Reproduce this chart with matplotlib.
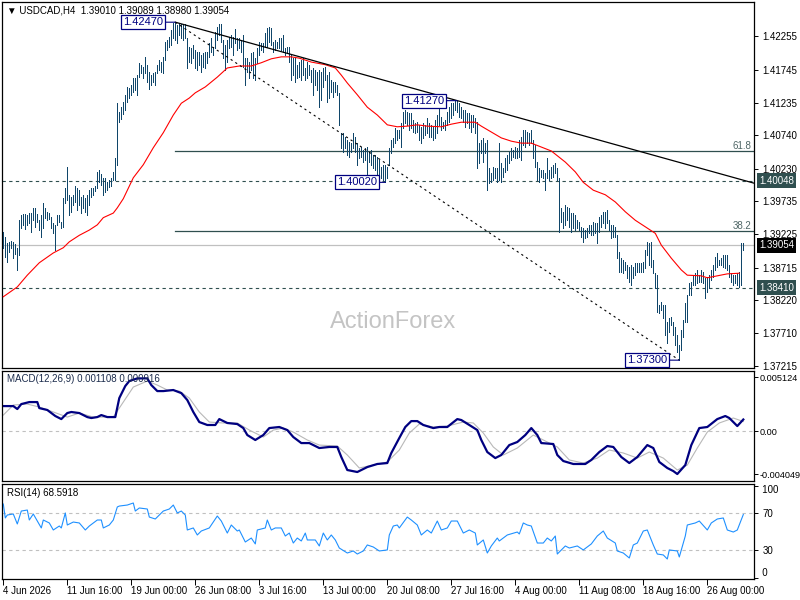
import matplotlib
matplotlib.use("Agg")
import matplotlib.pyplot as plt
import matplotlib.transforms as mtransforms
import numpy as np

plt.rcParams["font.family"] = ["Liberation Sans", "DejaVu Sans"]

# ---- data (H4 bars, index 0 = 4 Jun 2026 00:00) ----
symbol = "USDCAD,H4"
last_ohlc = [1.39010, 1.39089, 1.38980, 1.39054]
macd_header = [0.001108, 0.000916]
rsi_last = 68.5918

bar_high = [
    1.3926, 1.3918, 1.3909, 1.3911, 1.3912, 1.3911, 1.3908, 1.3902, 1.3944, 1.3952,
    1.3954, 1.3954, 1.3952, 1.3955, 1.3955, 1.3963, 1.3963, 1.3954, 1.3944, 1.3952,
    1.3970, 1.3963, 1.3957, 1.3955, 1.3949, 1.3940, 1.3937, 1.3952, 1.3952, 1.3941,
    1.3978, 1.3993, 1.4025, 1.3983, 1.3980, 1.3983, 1.3996, 1.3993, 1.3990, 1.3980,
    1.3983, 1.3978, 1.3983, 1.3990, 1.3993, 1.3993, 1.3996, 1.4018, 1.4021, 1.4015,
    1.4009, 1.4009, 1.4002, 1.4006, 1.4009, 1.4018, 1.4039, 1.4123, 1.4110, 1.4117,
    1.4125, 1.4136, 1.4148, 1.4146, 1.4151, 1.4162, 1.4162, 1.4166, 1.4185, 1.4182,
    1.4178, 1.4194, 1.4182, 1.4171, 1.4166, 1.4169, 1.4171, 1.4182, 1.4189, 1.4186,
    1.4194, 1.4217, 1.4220, 1.4224, 1.4235, 1.4246, 1.4247, 1.4243, 1.4245, 1.4244,
    1.4243, 1.4245, 1.4223, 1.4209, 1.4208, 1.4212, 1.4204, 1.4201, 1.4201, 1.4197,
    1.4200, 1.4201, 1.4201, 1.4215, 1.4223, 1.4209, 1.4232, 1.4240, 1.4245, 1.4244,
    1.4220, 1.4212, 1.4220, 1.4224, 1.4227, 1.4224, 1.4237, 1.4223, 1.4223, 1.4220,
    1.4227, 1.4192, 1.4192, 1.4186, 1.4200, 1.4201, 1.4192, 1.4208, 1.4217, 1.4215,
    1.4215, 1.4230, 1.4238, 1.4240, 1.4238, 1.4217, 1.4220, 1.4217, 1.4223, 1.4223,
    1.4227, 1.4208, 1.4209, 1.4209, 1.4197, 1.4192, 1.4192, 1.4182, 1.4186, 1.4189,
    1.4192, 1.4177, 1.4186, 1.4182, 1.4174, 1.4177, 1.4174, 1.4171, 1.4174, 1.4171,
    1.4177, 1.4178, 1.4166, 1.4171, 1.4159, 1.4155, 1.4155, 1.4151, 1.4139, 1.4077,
    1.4077, 1.4071, 1.4067, 1.4064, 1.4062, 1.4077, 1.4071, 1.4062, 1.4055, 1.4056,
    1.4051, 1.4055, 1.4056, 1.4048, 1.4051, 1.4044, 1.4044, 1.4041, 1.4036, 1.4025,
    1.4029, 1.4029, 1.4025, 1.4055, 1.4067, 1.4070, 1.4085, 1.4082, 1.4082, 1.4093,
    1.4110, 1.4113, 1.4110, 1.4108, 1.4108, 1.4097, 1.4093, 1.4094, 1.4090, 1.4087,
    1.4093, 1.4090, 1.4100, 1.4093, 1.4090, 1.4087, 1.4097, 1.4105, 1.4116, 1.4102,
    1.4094, 1.4097, 1.4110, 1.4117, 1.4123, 1.4124, 1.4126, 1.4127, 1.4124, 1.4117,
    1.4113, 1.4113, 1.4108, 1.4108, 1.4105, 1.4105, 1.4100, 1.4094, 1.4062, 1.4067,
    1.4070, 1.4062, 1.4067, 1.4024, 1.4016, 1.4025, 1.4024, 1.4024, 1.4062, 1.4032,
    1.4024, 1.4039, 1.4044, 1.4048, 1.4055, 1.4051, 1.4056, 1.4055, 1.4067, 1.4071,
    1.4082, 1.4082, 1.4079, 1.4077, 1.4082, 1.4067, 1.4059, 1.4033, 1.4024, 1.4021,
    1.4021, 1.4016, 1.4039, 1.4021, 1.4025, 1.4029, 1.4032, 1.4024, 1.4009, 1.3963,
    1.3957, 1.3967, 1.3964, 1.3963, 1.3955, 1.3955, 1.3952, 1.3944, 1.3941, 1.3934,
    1.3932, 1.3929, 1.3932, 1.3937, 1.3937, 1.3941, 1.3940, 1.3940, 1.3949, 1.3952,
    1.3957, 1.3957, 1.3960, 1.3944, 1.3937, 1.3937, 1.3934, 1.3921, 1.3895, 1.3886,
    1.3883, 1.3880, 1.3876, 1.3872, 1.3876, 1.3872, 1.3879, 1.3879, 1.3879, 1.3879,
    1.3880, 1.3898, 1.3911, 1.3909, 1.3911, 1.3883, 1.3863, 1.3860, 1.3814, 1.3819,
    1.3814, 1.3814, 1.3788, 1.3795, 1.3796, 1.3788, 1.3781, 1.3768, 1.3753, 1.3776,
    1.3791, 1.3817, 1.3830, 1.3848, 1.3849, 1.3860, 1.3863, 1.3868, 1.3860, 1.3868,
    1.3865, 1.3856, 1.3857, 1.3860, 1.3868, 1.3876, 1.3888, 1.3894, 1.3883, 1.3886,
    1.3891, 1.3891, 1.3891, 1.3876, 1.3863, 1.3860, 1.3860, 1.3863, 1.3865, 1.3909,
    1.39089,
]

bar_low = [
    1.3902, 1.3888, 1.3880, 1.3895, 1.3902, 1.3886, 1.3892, 1.3868, 1.3891, 1.3932,
    1.3937, 1.3931, 1.3937, 1.3940, 1.3926, 1.3944, 1.3934, 1.3941, 1.3929, 1.3918,
    1.3932, 1.3947, 1.3944, 1.3946, 1.3932, 1.3924, 1.3898, 1.3937, 1.3941, 1.3932,
    1.3934, 1.3970, 1.3975, 1.3952, 1.3957, 1.3967, 1.3972, 1.3960, 1.3967, 1.3955,
    1.3963, 1.3957, 1.3952, 1.3967, 1.3980, 1.3983, 1.3989, 1.3993, 1.4002, 1.3998,
    1.3983, 1.3987, 1.3990, 1.3995, 1.3996, 1.4006, 1.4006, 1.4029, 1.4094, 1.4099,
    1.4107, 1.4113, 1.4125, 1.4131, 1.4136, 1.4140, 1.4143, 1.4136, 1.4163, 1.4169,
    1.4162, 1.4169, 1.4155, 1.4145, 1.4151, 1.4155, 1.4151, 1.4169, 1.4174, 1.4171,
    1.4169, 1.4189, 1.4204, 1.4209, 1.4212, 1.4223, 1.4220, 1.4215, 1.4227, 1.4223,
    1.4220, 1.4223, 1.4177, 1.4186, 1.4185, 1.4192, 1.4177, 1.4174, 1.4182, 1.4171,
    1.4178, 1.4177, 1.4185, 1.4194, 1.4201, 1.4197, 1.4208, 1.4220, 1.4227, 1.4217,
    1.4192, 1.4174, 1.4186, 1.4208, 1.4209, 1.4197, 1.4215, 1.4204, 1.4208, 1.4201,
    1.4178, 1.4151, 1.4171, 1.4162, 1.4174, 1.4162, 1.4159, 1.4185, 1.4197, 1.4204,
    1.4201, 1.4209, 1.4209, 1.4217, 1.4212, 1.4201, 1.4204, 1.4208, 1.4208, 1.4204,
    1.4201, 1.4197, 1.4200, 1.4186, 1.4159, 1.4166, 1.4155, 1.4162, 1.4163, 1.4159,
    1.4166, 1.4159, 1.4162, 1.4166, 1.4155, 1.4136, 1.4151, 1.4143, 1.4117, 1.4128,
    1.4148, 1.4159, 1.4125, 1.4131, 1.4140, 1.4133, 1.4140, 1.4136, 1.4090, 1.4055,
    1.4048, 1.4055, 1.4044, 1.4041, 1.4048, 1.4055, 1.4048, 1.4029, 1.4039, 1.4041,
    1.4033, 1.4036, 1.4013, 1.4033, 1.4029, 1.4024, 1.4021, 1.4010, 1.4006, 1.4009,
    1.4006, 1.4002, 1.4009, 1.4029, 1.4047, 1.4056, 1.4062, 1.4067, 1.4070, 1.4056,
    1.4085, 1.4093, 1.4090, 1.4082, 1.4085, 1.4079, 1.4077, 1.4079, 1.4067, 1.4062,
    1.4070, 1.4074, 1.4077, 1.4071, 1.4071, 1.4067, 1.4070, 1.4077, 1.4090, 1.4082,
    1.4085, 1.4082, 1.4090, 1.4094, 1.4100, 1.4105, 1.4113, 1.4110, 1.4102, 1.4100,
    1.4094, 1.4087, 1.4093, 1.4085, 1.4079, 1.4087, 1.4077, 1.4024, 1.4032, 1.4047,
    1.4033, 1.4047, 1.3990, 1.4001, 1.4002, 1.4006, 1.4009, 1.4002, 1.4006, 1.4002,
    1.4010, 1.4018, 1.4021, 1.4032, 1.4036, 1.4041, 1.4039, 1.4039, 1.4041, 1.4036,
    1.4059, 1.4056, 1.4062, 1.4059, 1.4062, 1.4039, 1.4025, 1.4006, 1.4002, 1.4010,
    1.4009, 1.3990, 1.4009, 1.4006, 1.4009, 1.4010, 1.4016, 1.4006, 1.3926, 1.3941,
    1.3932, 1.3937, 1.3944, 1.3934, 1.3926, 1.3932, 1.3929, 1.3932, 1.3929, 1.3918,
    1.3911, 1.3917, 1.3918, 1.3924, 1.3921, 1.3921, 1.3924, 1.3909, 1.3926, 1.3934,
    1.3940, 1.3932, 1.3940, 1.3929, 1.3917, 1.3918, 1.3918, 1.3886, 1.3865, 1.3865,
    1.3863, 1.3868, 1.3856, 1.3849, 1.3845, 1.3856, 1.3860, 1.3865, 1.3865, 1.3865,
    1.3865, 1.3871, 1.3891, 1.3876, 1.3872, 1.3863, 1.3840, 1.3804, 1.3802, 1.3807,
    1.3795, 1.3768, 1.3756, 1.3773, 1.3784, 1.3768, 1.3753, 1.3742, 1.3730, 1.3746,
    1.3765, 1.3788, 1.3788, 1.3830, 1.3830, 1.3845, 1.3845, 1.3848, 1.3849, 1.3849,
    1.3848, 1.3825, 1.3834, 1.3840, 1.3853, 1.3857, 1.3868, 1.3872, 1.3876, 1.3876,
    1.3872, 1.3871, 1.3868, 1.3857, 1.3849, 1.3845, 1.3848, 1.3845, 1.3842, 1.3845,
    1.38980,
]

# red moving average, sampled along the bars
ma_bar = [0, 7, 12, 18, 25, 30, 33, 38, 43, 47,
          50, 55, 57, 60, 65, 70, 75, 80, 85, 89,
          93, 96, 101, 107, 112, 118, 124, 129, 134, 139,
          144, 148, 154, 161, 166, 169, 172, 177, 182, 187,
          192, 197, 202, 207, 212, 219, 224, 229, 236, 239,
          244, 249, 254, 259, 264, 269, 274, 281, 286, 290,
          295, 301, 306, 311, 316, 321, 326, 329, 334, 339,
          342, 349, 352, 357, 362, 368]
ma_val = [1.3827, 1.3842, 1.3860, 1.3879, 1.3894, 1.3902, 1.3911, 1.3921, 1.3929, 1.3937,
          1.3948, 1.3955, 1.3963, 1.3977, 1.4009, 1.4029, 1.4055, 1.4078, 1.4105, 1.4123,
          1.4131, 1.4139, 1.4148, 1.4163, 1.4177, 1.4180, 1.4180, 1.4185, 1.4191, 1.4194,
          1.4194, 1.4192, 1.4186, 1.4182, 1.4177, 1.4166, 1.4154, 1.4136, 1.4117, 1.4105,
          1.4090, 1.4087, 1.4088, 1.4090, 1.4088, 1.4087, 1.4091, 1.4094, 1.4094, 1.4088,
          1.4079, 1.4070, 1.4065, 1.4062, 1.4062, 1.4056, 1.4050, 1.4033, 1.4018, 1.4002,
          1.3990, 1.3983, 1.3972, 1.3957, 1.3944, 1.3934, 1.3924, 1.3906, 1.3886, 1.3868,
          1.3860, 1.3859, 1.3856, 1.3859, 1.3862, 1.3863]

macd_bar = [0, 5, 7, 9, 13, 17, 18, 22, 26, 29,
            32, 34, 38, 42, 44, 47, 49, 52, 56, 58,
            61, 63, 67, 72, 74, 77, 80, 85, 89, 92,
            95, 98, 102, 106, 108, 112, 117, 120, 122, 126,
            130, 133, 138, 142, 145, 149, 153, 158, 163, 167,
            169, 172, 177, 182, 187, 192, 194, 198, 201, 204,
            207, 210, 215, 218, 222, 227, 229, 233, 237, 239,
            242, 246, 249, 253, 257, 261, 264, 267, 269, 275,
            277, 280, 285, 291, 294, 298, 302, 305, 309, 313,
            317, 322, 325, 328, 332, 335, 337, 341, 344, 348,
            352, 357, 361, 363, 367, 370]
macd_val = [0.00238, 0.00238, 0.00210, 0.00257, 0.00276, 0.00276, 0.00219, 0.00201, 0.00144, 0.00115,
            0.00172, 0.00182, 0.00172, 0.00134, 0.00125, 0.00134, 0.00153, 0.00134, 0.00134, 0.00314,
            0.00428, 0.00475, 0.00500, 0.00500, 0.00437, 0.00380, 0.00380, 0.00390, 0.00361, 0.00295,
            0.00182, 0.00087, 0.00059, 0.00059, 0.00115, 0.00078, 0.00068, 0.00030, -0.00036, -0.00083,
            -0.00036, 0.00030, 0.00040, 0.00011, -0.00055, -0.00112, -0.00112, -0.00159, -0.00149, -0.00149,
            -0.00244, -0.00367, -0.00386, -0.00339, -0.00310, -0.00301, -0.00206, -0.00064, 0.00040, 0.00096,
            0.00096, 0.00059, 0.00030, 0.00040, 0.00040, 0.00115, 0.00106, 0.00059, 0.00011, -0.00083,
            -0.00197, -0.00254, -0.00225, -0.00131, -0.00102, -0.00036, 0.00030, -0.00036, -0.00112, -0.00121,
            -0.00225, -0.00282, -0.00310, -0.00310, -0.00272, -0.00197, -0.00140, -0.00149, -0.00244, -0.00301,
            -0.00244, -0.00131, -0.00159, -0.00291, -0.00348, -0.00377, -0.00405, -0.00320, -0.00131, 0.00030,
            0.00040, 0.00115, 0.00144, 0.00125, 0.00049, 0.00111]

signal_bar = [0, 5, 12, 18, 25, 32, 38, 45, 55, 60,
              65, 72, 77, 82, 88, 93, 98, 103, 110, 117,
              123, 130, 135, 140, 145, 152, 158, 167, 172, 178,
              185, 192, 198, 203, 208, 215, 222, 230, 235, 240,
              245, 250, 257, 265, 270, 277, 283, 290, 297, 303,
              310, 317, 323, 330, 337, 342, 347, 352, 358, 365,
              370]
signal_val = [0.00153, 0.00248, 0.00257, 0.00229, 0.00182, 0.00134, 0.00172, 0.00134, 0.00134, 0.00276,
              0.00418, 0.00475, 0.00437, 0.00390, 0.00380, 0.00314, 0.00182, 0.00087, 0.00078, 0.00078,
              0.00011, -0.00055, 0.00011, 0.00030, -0.00008, -0.00083, -0.00131, -0.00140, -0.00225, -0.00348,
              -0.00320, -0.00291, -0.00178, -0.00017, 0.00068, 0.00040, 0.00049, 0.00087, 0.00078, -0.00017,
              -0.00149, -0.00225, -0.00159, -0.00036, -0.00083, -0.00149, -0.00272, -0.00301, -0.00254, -0.00178,
              -0.00206, -0.00254, -0.00197, -0.00254, -0.00367, -0.00320, -0.00159, -0.00008, 0.00078, 0.00125,
              0.00092]

rsi_bar = [0, 1, 2, 5, 7, 9, 12, 13, 15, 19,
           20, 23, 25, 28, 29, 31, 32, 35, 38, 41,
           43, 47, 49, 50, 53, 55, 57, 58, 62, 65,
           66, 68, 72, 73, 76, 80, 83, 85, 87, 89,
           91, 92, 95, 97, 99, 103, 107, 109, 112, 114,
           117, 118, 121, 124, 126, 127, 131, 132, 134, 136,
           139, 141, 143, 145, 147, 149, 151, 152, 156, 158,
           160, 162, 164, 166, 168, 172, 175, 177, 180, 182,
           185, 188, 192, 193, 195, 197, 198, 202, 204, 207,
           209, 212, 214, 217, 219, 222, 224, 227, 230, 233,
           236, 237, 240, 242, 244, 247, 248, 252, 257, 258,
           260, 262, 264, 267, 270, 272, 274, 276, 277, 281,
           283, 287, 290, 294, 297, 300, 302, 306, 307, 310,
           313, 315, 317, 320, 322, 325, 327, 330, 332, 333,
           337, 338, 341, 342, 346, 348, 352, 354, 357, 360,
           362, 365, 367, 370]
rsi_val = [80.0, 64.9, 68.1, 69.2, 58.4, 72.4, 73.5, 62.7, 69.2, 54.1,
           62.7, 59.5, 51.9, 56.2, 54.1, 70.3, 57.3, 60.5, 59.5, 51.9,
           56.2, 62.7, 62.7, 54.1, 57.3, 62.7, 76.8, 77.8, 78.9, 81.1,
           72.4, 75.7, 74.6, 65.9, 63.8, 72.4, 74.6, 78.9, 70.3, 72.4,
           68.1, 51.9, 54.1, 46.5, 50.8, 54.1, 67.0, 61.6, 48.6, 57.3,
           50.8, 51.9, 38.9, 43.2, 36.8, 51.9, 54.1, 62.7, 51.9, 54.1,
           54.1, 45.4, 48.6, 37.8, 43.2, 40.0, 48.6, 41.1, 41.1, 34.6,
           48.6, 41.1, 46.5, 41.1, 32.4, 27.0, 29.2, 25.9, 29.2, 35.7,
           33.5, 29.2, 30.3, 46.5, 56.2, 57.3, 54.1, 65.9, 62.7, 57.3,
           46.5, 51.9, 48.6, 61.6, 51.9, 54.1, 61.6, 61.6, 48.6, 51.9,
           48.6, 35.7, 41.1, 27.0, 34.6, 43.2, 40.0, 46.5, 49.7, 47.6,
           59.5, 57.3, 56.2, 37.8, 37.8, 43.2, 40.0, 45.4, 25.9, 34.6,
           32.4, 34.6, 30.3, 36.8, 45.4, 50.8, 43.2, 37.8, 29.2, 27.0,
           21.6, 35.7, 37.8, 50.8, 51.9, 35.7, 25.9, 24.9, 20.5, 30.3,
           29.2, 22.7, 45.4, 57.3, 59.5, 61.6, 51.9, 59.5, 63.8, 64.9,
           51.9, 49.7, 51.9, 68.6]

price_ticks = [1.42255, 1.41745, 1.41235, 1.40740, 1.40230, 1.39735,
               1.39225, 1.38715, 1.38220, 1.37710, 1.37215]
date_labels = ["4 Jun 2026", "11 Jun 16:00", "19 Jun 00:00", "26 Jun 08:00",
               "3 Jul 16:00", "13 Jul 00:00", "20 Jul 08:00", "27 Jul 16:00",
               "4 Aug 00:00", "11 Aug 08:00", "18 Aug 16:00", "26 Aug 00:00"]
bars_per_label = 32

# swing points marked on the chart: (bar, price)
swing_high = (86, 1.42470)
lower_high = (227, 1.41270)
pullback_low = (191, 1.40020)
swing_low = (338, 1.37300)
resistance = 1.40048
support = 1.38410
fib_ratios = [0.618, 0.382]

BAR_COLOR = "#10466a"
SLATE = "#2f4f4f"
NAVY = "#000080"

fig = plt.figure(figsize=(8, 6), dpi=100)
fig.patch.set_facecolor("white")

ax = fig.add_axes([2 / 800, 1 - 368 / 600, 752 / 800, 366 / 600])
ax_macd = fig.add_axes([2 / 800, 1 - 481 / 600, 752 / 800, 110 / 600])
ax_rsi = fig.add_axes([2 / 800, 1 - 578.7 / 600, 752 / 800, 95.2 / 600])

n_bars = len(bar_high)
x = np.arange(n_bars)
xlim = (-0.65, 375.35)

for a in (ax, ax_macd, ax_rsi):
    a.set_xlim(*xlim)
    a.set_facecolor("white")
    for s in a.spines.values():
        s.set_color("black")
        s.set_linewidth(0.9)
    a.yaxis.tick_right()
    a.tick_params(axis="y", direction="out", length=3, width=0.7,
                  labelsize=7, pad=3, colors="black")
    a.tick_params(axis="x", bottom=False, labelbottom=False)

# ---- main price panel ----
ax.set_ylim(1.37180, 1.42779)
ax.set_yticks(price_ticks)
ax.set_yticklabels([f"{v:.5f}" for v in price_ticks])

ax.vlines(x, bar_low, bar_high, colors=BAR_COLOR, linewidth=0.72,
          antialiased=False, zorder=3)
ax.plot(ma_bar, ma_val, color="red", linewidth=0.8, zorder=4)

ax.axhline(last_ohlc[3], color="#c0c0c0", linewidth=0.9, zorder=1)
ax.axhline(resistance, color=SLATE, linewidth=0.8, dashes=(3, 3), zorder=2)
ax.axhline(support, color=SLATE, linewidth=0.8, dashes=(3, 3), zorder=2)

hi, lo = swing_high[1], swing_low[1]
for r in fib_ratios:
    lvl = lo + r * (hi - lo)
    ax.plot([swing_high[0], xlim[1]], [lvl, lvl], color=SLATE, linewidth=0.9, zorder=2)
    ax.text(0.997, lvl, f"{r * 100:.1f}", transform=mtransforms.blended_transform_factory(
        ax.transAxes, ax.transData), ha="right", va="bottom", fontsize=7,
        color="#4f6666", zorder=5)

# trend lines
slope = (lower_high[1] - swing_high[1]) / (lower_high[0] - swing_high[0])
ax.plot([swing_high[0], xlim[1]],
        [swing_high[1], swing_high[1] + slope * (xlim[1] - swing_high[0])],
        color="black", linewidth=0.9, zorder=4)
ax.plot([swing_high[0], swing_low[0]], [swing_high[1], swing_low[1]],
        color="black", linewidth=0.8, dashes=(2, 3), zorder=4)


def swing_label(pt, offset):
    ax.annotate(f"{pt[1]:.5f}", xy=pt, xytext=(offset, 0), textcoords="offset pixels",
                ha="right", va="center", fontsize=8, color=NAVY, zorder=6,
                bbox=dict(boxstyle="square,pad=0.18", fc="white", ec=NAVY, lw=0.9),
                arrowprops=dict(arrowstyle="-", color=NAVY, lw=0.8,
                                shrinkA=0, shrinkB=0))


swing_label(swing_high, -12)
swing_label(lower_high, -13)
swing_label(pullback_low, -8)
swing_label(swing_low, -12)


def axis_box(a, value, text, fc):
    a.annotate(text, xy=(1, value), xycoords=("axes fraction", "data"),
               xytext=(5, 0), textcoords="offset pixels", ha="left", va="center",
               fontsize=7, color="white", annotation_clip=False, zorder=7,
               bbox=dict(boxstyle="square,pad=0.25", fc=fc, ec="none"))


axis_box(ax, resistance, f"{resistance:.5f}", SLATE)
axis_box(ax, support, f"{support:.5f}", SLATE)
axis_box(ax, last_ohlc[3], f"{last_ohlc[3]:.5f}", "black")

fig.text(7 / 800, 1 - 10.5 / 600,
         "\u25bc " + symbol + "  " + " ".join(f"{v:.5f}" for v in last_ohlc),
         ha="left", va="center", fontsize=7, color="black")
fig.text(393 / 800, 1 - 322 / 600, "ActionForex", ha="center", va="center",
         fontsize=17, color="#c4c4c4")

# ---- MACD panel ----
ax_macd.set_ylim(-0.00471, 0.00570)
ax_macd.set_yticks([0.005124, 0.0, -0.004049])
ax_macd.set_yticklabels(["0.005124", "0.00", "-0.004049"])
ax_macd.tick_params(axis="y", labelsize=6.6, pad=1)
ax_macd.axhline(0, color="#c0c0c0", linewidth=0.8, dashes=(3, 3))
ax_macd.plot(signal_bar, signal_val, color="#b8b8b8", linewidth=0.8)
ax_macd.plot(macd_bar, macd_val, color=NAVY, linewidth=1.6)
ax_macd.text(5 / 752, 0.93,
             f"MACD(12,26,9) {macd_header[0]:.6f} {macd_header[1]:.6f}",
             transform=ax_macd.transAxes, ha="left", va="center", fontsize=7,
             color="#1c2c4c")

# ---- RSI panel ----
ax_rsi.set_ylim(-0.8, 102.2)
ax_rsi.set_yticks([100, 70, 30, 0])
ax_rsi.set_yticklabels(["", "70", "30", ""])
for lvl in (70, 30):
    ax_rsi.axhline(lvl, color="#c0c0c0", linewidth=0.8, dashes=(3, 3))
ax_rsi.plot(rsi_bar, rsi_val, color="#1e90ff", linewidth=0.8)
edge = mtransforms.blended_transform_factory(ax_rsi.transAxes, ax_rsi.transData)
ax_rsi.text(1.0, 101, "   100", transform=edge, ha="left", va="top", fontsize=7)
ax_rsi.text(1.0, 0, "   0", transform=edge, ha="left", va="bottom", fontsize=7)
ax_rsi.text(5 / 752, 0.9, f"RSI(14) {rsi_last:.4f}",
            transform=ax_rsi.transAxes, ha="left", va="center", fontsize=7,
            color="black")

ax_rsi.tick_params(axis="x", bottom=True, labelbottom=True, direction="out",
                   length=4, width=0.7, labelsize=7, pad=1)
ax_rsi.set_xticks(np.arange(0, bars_per_label * len(date_labels), bars_per_label))
ax_rsi.set_xticklabels(date_labels)
for lbl in ax_rsi.get_xticklabels():
    lbl.set_ha("left")

fig.savefig("out.png", dpi=100, facecolor="white")
